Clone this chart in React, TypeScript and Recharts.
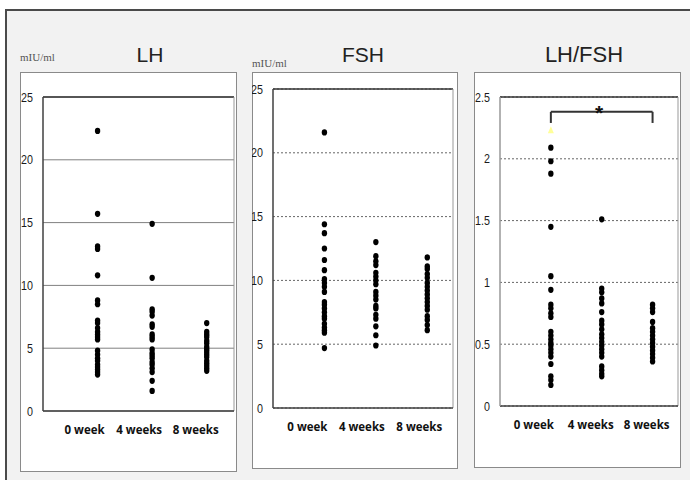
import React from 'react';
import { ScatterChart, Scatter, XAxis, YAxis, CartesianGrid, ReferenceLine, ReferenceDot } from 'recharts';

// categories on the x axis (same for all three panels)
const categories = ['0 week', '4 weeks', '8 weeks'];

// LH (mIU/ml)
const lh0 = [22.3, 15.7, 13.1, 12.9, 10.8, 8.8, 8.5, 7.2, 7.0, 6.6, 6.3, 6.1, 5.9, 5.7, 4.8, 4.5, 4.2, 4.0, 3.7, 3.5, 3.3, 3.1, 2.9];
const lh4 = [14.9, 10.6, 8.1, 7.9, 7.6, 6.9, 6.7, 6.1, 5.9, 5.7, 4.9, 4.6, 4.4, 4.2, 3.9, 3.7, 3.4, 3.1, 2.4, 1.6];
const lh8 = [7.0, 6.3, 6.1, 5.9, 5.6, 5.4, 5.1, 4.9, 4.7, 4.5, 4.3, 4.0, 3.8, 3.6, 3.4, 3.2];

// FSH (mIU/ml)
const fsh0 = [21.6, 14.4, 13.7, 12.5, 11.6, 10.8, 10.1, 9.8, 9.5, 9.1, 8.3, 8.1, 7.8, 7.5, 7.2, 7.0, 6.6, 6.3, 6.1, 5.9, 4.7];
const fsh4 = [13.0, 11.9, 11.5, 11.2, 10.6, 10.3, 10.0, 9.7, 9.1, 8.8, 8.5, 8.0, 7.8, 7.3, 7.0, 6.4, 5.7, 4.9];
const fsh8 = [11.8, 11.1, 10.9, 10.5, 10.2, 9.8, 9.5, 9.2, 8.9, 8.6, 8.3, 8.0, 7.7, 7.2, 6.9, 6.5, 6.1];

// LH/FSH ratio
const ratio0 = [2.09, 1.98, 1.88, 1.45, 1.05, 0.94, 0.82, 0.79, 0.75, 0.72, 0.6, 0.57, 0.54, 0.51, 0.49, 0.46, 0.43, 0.4, 0.34, 0.24, 0.21, 0.17];
const ratio4 = [1.51, 0.95, 0.92, 0.87, 0.83, 0.76, 0.69, 0.66, 0.62, 0.58, 0.55, 0.52, 0.49, 0.46, 0.43, 0.4, 0.32, 0.29, 0.26, 0.24];
const ratio8 = [0.82, 0.79, 0.76, 0.68, 0.63, 0.6, 0.57, 0.54, 0.51, 0.48, 0.45, 0.42, 0.39, 0.36];
const ratioMarker = [2.23];

const hormoneTicks = [0, 5, 10, 15, 20, 25];
const ratioTicks = [0, 0.5, 1, 1.5, 2, 2.5];
const xTicks = [1, 2, 3];

const toPoints = (values: number[], pos: number) => values.map((y) => ({ x: pos, y }));

const sans = "'Liberation Sans', Arial, sans-serif";

const Dot = (props: any) => <ellipse cx={props.cx} cy={props.cy} rx={2.7} ry={3.1} fill="#000" />;
const Tri = (props: any) => (
  <polygon
    points={`${props.cx},${props.cy - 4} ${props.cx - 3},${props.cy + 3} ${props.cx + 3},${props.cy + 3}`}
    fill="#ffff99"
  />
);

// narrow-looking y tick labels
const YTick = (p: any) => (
  <text
    transform={`translate(${p.x},${p.y}) scale(0.86,1)`}
    dy="0.36em"
    textAnchor="end"
    fontSize={12.5}
    fontFamily={sans}
    fill="#1a1a1a"
  >
    {p.payload.value}
  </text>
);

interface PanelProps {
  box: { left: number; top: number; width: number; height: number };
  margin: { left: number; top: number; right: number; bottom: number };
  yMax: number;
  yTicks: number[];
  series: number[][];
  dashed: boolean;
  labelShift: number[];
  leftAxisColor: string;
  children?: React.ReactNode;
}

function Panel({ box, margin, yMax, yTicks, series, dashed, labelShift, leftAxisColor, children }: PanelProps) {
  return (
    <div
      style={{
        position: 'absolute',
        left: box.left,
        top: box.top,
        width: box.width,
        height: box.height,
        boxSizing: 'border-box',
        border: '1px solid #8a8a8a',
        background: '#fff',
      }}
    >
      <div style={{ position: 'absolute', left: -1, top: -1 }}>
        <ScatterChart width={box.width} height={box.height} margin={{ left: 0, top: margin.top, right: margin.right, bottom: 0 }}>
          <CartesianGrid
            vertical={false}
            stroke={dashed ? '#666' : '#808080'}
            strokeDasharray={dashed ? '2 2' : undefined}
          />
          <XAxis
            type="number"
            dataKey="x"
            domain={[0, 3.5]}
            ticks={xTicks}
            height={margin.bottom}
            tickSize={0}
            tickMargin={14}
            axisLine={{ stroke: '#404040', strokeWidth: 1.5 }}
            tick={(p: any) => {
              const i = p.payload.value - 1;
              return (
                <text
                  x={p.x + labelShift[i]}
                  y={p.y}
                  dy="0.75em"
                  textAnchor="middle"
                  fontSize={11.5}
                  fontWeight="bold"
                  fontFamily="'Open Sans', 'Liberation Sans', sans-serif"
                  fill="#111"
                >
                  {categories[i]}
                </text>
              );
            }}
          />
          <YAxis
            type="number"
            dataKey="y"
            domain={[0, yMax]}
            ticks={yTicks}
            width={margin.left}
            tickSize={0}
            tickMargin={10}
            axisLine={{ stroke: leftAxisColor, strokeWidth: 1.5 }}
            tick={YTick}
          />
          <ReferenceLine y={yMax} stroke="#333" strokeWidth={1.5} />
          <ReferenceLine x={3.5} stroke="#999" strokeWidth={1} />
          {series.map((vals, i) => (
            <Scatter key={i} data={toPoints(vals, i + 1)} shape={Dot} isAnimationActive={false} />
          ))}
          {children}
        </ScatterChart>
      </div>
    </div>
  );
}

export default function App() {
  return (
    <div style={{ position: 'fixed', left: 0, top: 0, width: 690, height: 480, background: '#fff', overflow: 'hidden' }}>
      <div
        style={{
          position: 'absolute',
          left: 5,
          top: 9,
          width: 700,
          height: 480,
          background: '#f2f2f2',
          borderLeft: '2px solid #4a4a4a',
          borderTop: '2px solid #4a4a4a',
        }}
      />
      <svg width={690} height={480} style={{ position: 'absolute', left: 0, top: 0 }}>
        <text x={20} y={61} fontSize={11} fontFamily="'Liberation Serif', serif" fill="#555">mIU/ml</text>
        <text x={252} y={67} fontSize={11} fontFamily="'Liberation Serif', serif" fill="#555">mIU/ml</text>
        <text x={150} y={62} textAnchor="middle" fontSize={21} fontFamily={sans} fill="#222">LH</text>
        <text x={363} y={62} textAnchor="middle" fontSize={21} fontFamily={sans} fill="#222">FSH</text>
        <text x={584} y={62} textAnchor="middle" fontSize={22} fontFamily={sans} fill="#222">LH/FSH</text>
      </svg>

      <Panel
        box={{ left: 20, top: 72, width: 217, height: 400 }}
        margin={{ left: 23, top: 25, right: 3, bottom: 61 }}
        yMax={25}
        yTicks={hormoneTicks}
        series={[lh0, lh4, lh8]}
        dashed={false}
        labelShift={[-13, -13, -11]}
        leftAxisColor="#404040"
      />
      <Panel
        box={{ left: 252, top: 72, width: 206, height: 397 }}
        margin={{ left: 21, top: 17, right: 5, bottom: 61 }}
        yMax={25}
        yTicks={hormoneTicks}
        series={[fsh0, fsh4, fsh8]}
        dashed={true}
        labelShift={[-17, -14, -8]}
        leftAxisColor="#404040"
      />
      <Panel
        box={{ left: 474, top: 72, width: 207, height: 396 }}
        margin={{ left: 26, top: 25, right: 3, bottom: 62 }}
        yMax={2.5}
        yTicks={ratioTicks}
        series={[ratio0, ratio4, ratio8]}
        dashed={true}
        labelShift={[-17, -11, -6]}
        leftAxisColor="#999"
      >
        <Scatter data={toPoints(ratioMarker, 1)} shape={Tri} isAnimationActive={false} />
        <ReferenceLine segment={[{ x: 1, y: 2.29 }, { x: 1, y: 2.38 }]} stroke="#333" strokeWidth={2} />
        <ReferenceLine segment={[{ x: 1, y: 2.38 }, { x: 3, y: 2.38 }]} stroke="#333" strokeWidth={2} />
        <ReferenceLine segment={[{ x: 3, y: 2.38 }, { x: 3, y: 2.29 }]} stroke="#333" strokeWidth={2} />
        <ReferenceDot
          x={1.95}
          y={2.41}
          r={0}
          shape={(p: any) => (
            <text x={p.cx} y={p.cy + 12} textAnchor="middle" fontSize={21} fontWeight="bold" fontFamily={sans} fill="#111">
              *
            </text>
          )}
        />
      </Panel>
    </div>
  );
}
